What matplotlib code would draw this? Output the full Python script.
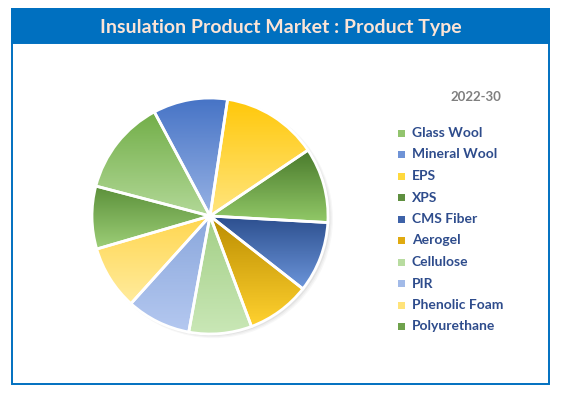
import matplotlib.pyplot as plt
import numpy as np
from matplotlib.colors import LinearSegmentedColormap
from matplotlib.patches import Rectangle, Circle

# product type shares, 2022-30 (%)
products = ["Glass Wool", "Mineral Wool", "EPS", "XPS", "CMS Fiber",
            "Aerogel", "Cellulose", "PIR", "Phenolic Foam", "Polyurethane"]
shares = [13.1, 10.2, 13.2, 10.3, 9.7, 8.7, 8.6, 8.8, 8.8, 8.6]

# gradient colours (top, bottom) and legend swatch colour
tops = ["#72AE48", "#4774C6", "#FFC80A", "#4A7A2C", "#2C4F8E",
        "#BA8C00", "#A3CF86", "#8AA7DC", "#FFD650", "#5C903A"]
bottoms = ["#B2D897", "#97B2E4", "#FFE57E", "#92C968", "#6C95DA",
           "#FFD12F", "#C9E7B6", "#B4C8F0", "#FFEC9E", "#9DCF78"]
swatch = ["#92C46E", "#6F93D6", "#FFD93D", "#5E8F3F", "#3E62A8",
          "#E0AA10", "#B8DCA0", "#A2BAE8", "#FFE37A", "#6FA24C"]

W, H = 562, 393
fig = plt.figure(figsize=(W / 100, H / 100), dpi=100)

# background axes in pixel coordinates (y down)
bg = fig.add_axes([0, 0, 1, 1])
bg.set_xlim(0, W)
bg.set_ylim(H, 0)
bg.axis("off")
blue = "#0070C0"
bg.add_patch(Rectangle((12, 9), 537, 375, fill=False, ec=blue, lw=1.4))
bg.add_patch(Rectangle((12, 9), 537, 34, fc=blue, ec=blue, lw=1.4))
bg.text(281, 27, "Insulation Product Market : Product Type", color="#FCE4D6",
        fontsize=14, fontweight="bold", family="Lato", ha="center", va="center")
bg.text(476, 97, "2022-30", color="#7F7F7F", fontsize=9.5, fontweight="bold",
        family="Lato", ha="center", va="center")

for i, name in enumerate(products):
    y = 133 + i * 21.5
    bg.add_patch(Rectangle((398, y - 3.5), 7, 7, fc=swatch[i], ec="none"))
    bg.text(412, y, name, color="#2E4C8C", fontsize=10, fontweight="bold",
            family="Lato", ha="left", va="center")

# pie axes: centre (210, 216), radius 118 px
cx, cy, r = 210, 216, 118
lim = 1.1
size = 2 * r * lim
ax = fig.add_axes([(cx - size / 2) / W, (H - cy - size / 2) / H, size / W, size / H])

# soft shadow
for k, a in enumerate([0.10, 0.08, 0.06]):
    ax.add_patch(Circle((0.02 + 0.005 * k, -0.015 - 0.004 * k), 1.0 + 0.006 * k,
                        fc="gray", ec="none", alpha=a, zorder=0))

start = 90 - 284.7
wedges, _ = ax.pie(shares, startangle=start, counterclock=False,
                   colors=["none"] * len(shares),
                   wedgeprops=dict(ec="white", lw=2))

grad = np.linspace(0, 1, 100).reshape(-1, 1)
for i, w in enumerate(wedges):
    th = np.radians(np.linspace(w.theta1, w.theta2, 60))
    xs = np.concatenate([[0], np.cos(th)])
    ys = np.concatenate([[0], np.sin(th)])
    cmap = LinearSegmentedColormap.from_list("g%d" % i, [tops[i], bottoms[i]])
    im = ax.imshow(grad, cmap=cmap, aspect="auto", origin="upper",
                   extent=(xs.min(), xs.max(), ys.min(), ys.max()), zorder=1)
    im.set_clip_path(w)
    w.set_zorder(2)

ax.set_xlim(-lim, lim)
ax.set_ylim(-lim, lim)
ax.set_aspect("equal")
ax.axis("off")

fig.savefig("out.png", dpi=100)
